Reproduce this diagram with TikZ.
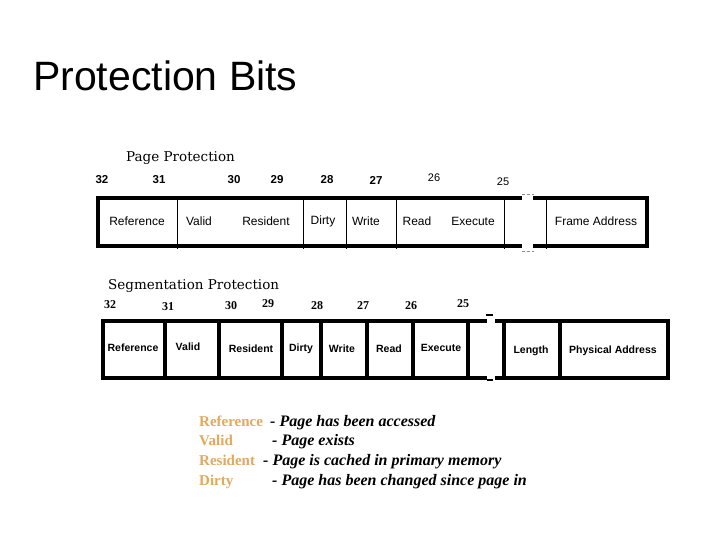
\documentclass[tikz,border=0pt]{standalone}
\usepackage{fontspec}
\setmainfont{Liberation Serif}
\setsansfont{Liberation Sans}
\newfontfamily\headfont{DejaVu Serif}
\usetikzlibrary{positioning}
\definecolor{legendtan}{HTML}{E3A85E}
\definecolor{breakgray}{HTML}{8C8C8C}
\tikzset{
  pagenum/.style={font=\sffamily\bfseries\fontsize{11.5}{11.5}\selectfont, inner sep=0pt},
  pagenumlight/.style={font=\sffamily\fontsize{11}{11}\selectfont, inner sep=0pt},
  segnum/.style={font=\rmfamily\bfseries\fontsize{12}{12}\selectfont, inner sep=0pt},
  pagefield/.style={font=\sffamily\fontsize{12}{12}\selectfont, inner sep=0pt},
  segfield/.style={font=\sffamily\bfseries\fontsize{10.5}{10.5}\selectfont, inner sep=0pt},
  boxtitle/.style={font=\headfont\fontsize{13.5}{13.5}\selectfont, anchor=base west, inner sep=0pt},
  thickrule/.style={line width=3.2pt},
  thinrule/.style={line width=1pt},
  breakmark/.style={breakgray, line width=0.8pt, dash pattern=on 3pt off 2pt},
  legkey/.style={font=\rmfamily\bfseries\fontsize{15}{15}\selectfont, text=legendtan,
    anchor=base west, inner sep=0pt},
  legtext/.style={font=\rmfamily\bfseries\itshape\fontsize{16}{16}\selectfont,
    anchor=base west, inner sep=0pt}
}

\begin{document}
\begin{tikzpicture}[x=1pt,y=-1pt]
  \useasboundingbox (0,0) rectangle (720,540);
  \node[font=\sffamily\fontsize{41}{41}\selectfont, anchor=base west, inner sep=0pt]
    (title) at (33,91) {Protection Bits};

  % page table entry
  \node[boxtitle] (pagetitle) at (126,162) {Page Protection};
  \draw[thickrule] (522,198) -- (98,198) -- (98,246) -- (522,246);
  \draw[thickrule] (533,198) -- (647,198) -- (647,246) -- (533,246);
  \foreach \x in {177,303,346,396,504,546}
    \draw[thinrule] (\x,198) -- (\x,249);
  \draw[breakmark] (522,194) -- (534,194);
  \draw[breakmark] (522,251) -- (534,251);
  \foreach \n/\x in {32/102,31/159,30/234,29/277,28/327,27/376}
    \node[pagenum] (pbit\n) at (\x,180) {\n};
  \node[pagenumlight] (pbit26) at (434,178) {26};
  \node[pagenumlight] (pbit25) at (503,182) {25};
  \foreach \name/\x/\txt in {pref/137/Reference,pvalid/199/Valid,pres/266/Resident,
      pdirty/323/Dirty,pwrite/366/Write,pread/417/Read,pexec/473/Execute,
      pframe/596/Frame Address}
    \node[pagefield] (\name) at (\x,221) {\txt};

  % segment descriptor
  \node[boxtitle] (segtitle) at (108,289) {Segmentation Protection};
  \draw[thickrule] (487,321) -- (103,321) -- (103,378) -- (487,378);
  \draw[thickrule] (495,321) -- (668,321) -- (668,378) -- (495,378);
  \foreach \x in {165,219,282,321,367,413,468,504,560}
    \draw[thickrule] (\x,321) -- (\x,378);
  \draw[line width=1.6pt] (486,315) -- (493,315);
  \draw[line width=1.2pt] (487,380) -- (493,380);
  \foreach \n/\x/\y in {32/110/305,31/168/307,30/231/306,29/268/304,
      28/317/306,27/363/306,26/411/306,25/463/304}
    \node[segnum] (sbit\n) at (\x,\y) {\n};
  \foreach \name/\x/\y/\txt in {sref/133/348/Reference,svalid/188/347/Valid,
      sres/251/349/Resident,sdirty/301/349/Dirty,swrite/342/349/Write,
      sread/389/349/Read,sexec/441/348/Execute,slen/531/351/Length,
      sphys/613/351/Physical Address}
    \node[segfield] (\name) at (\x,\y) {\txt};

  % legend
  \node[legkey] (kref) at (199,426) {Reference};
  \node[legtext] (tref) at (270,426) {- Page has been accessed};
  \node[legkey] (kvalid) at (199,445) {Valid};
  \node[legtext] (tvalid) at (272,445) {- Page exists};
  \node[legkey] (kres) at (199,465) {Resident};
  \node[legtext] (tres) at (263,465) {- Page is cached in primary memory};
  \node[legkey] (kdirty) at (199,485) {Dirty};
  \node[legtext] (tdirty) at (272,485) {- Page has been changed since page in};
\end{tikzpicture}
\end{document}
